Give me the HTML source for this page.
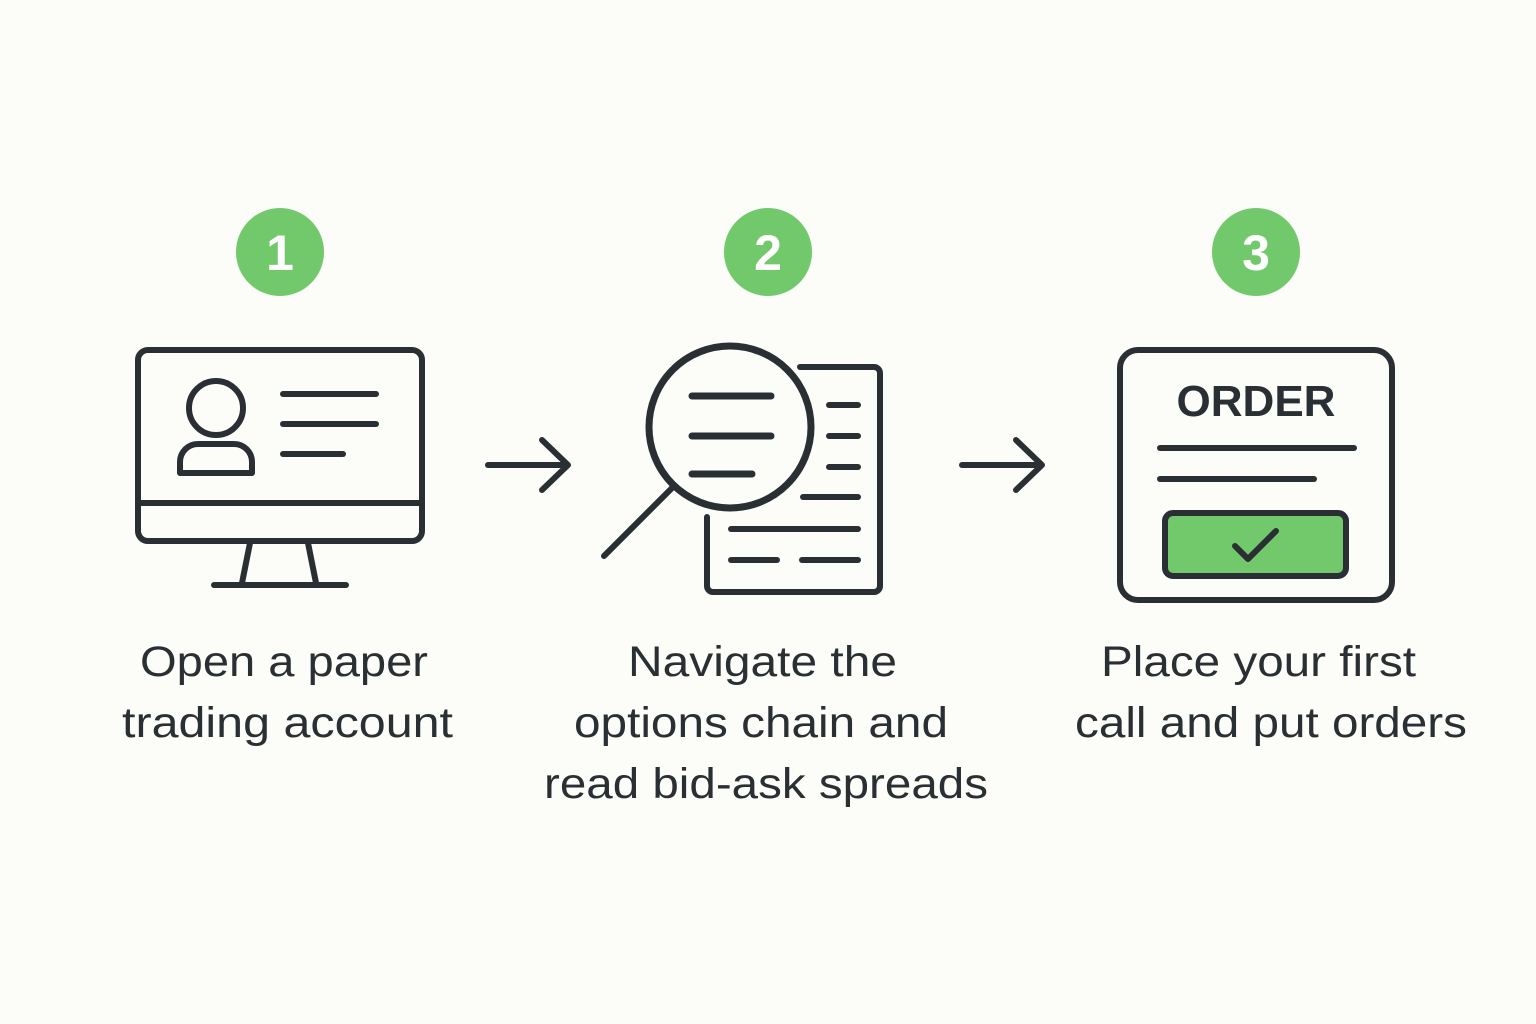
<!DOCTYPE html>
<html><head><meta charset="utf-8"><style>
html,body{margin:0;padding:0;background:#fcfcf8;}
svg{display:block}
text{font-family:"Liberation Sans",sans-serif;}
</style></head><body>
<svg width="1536" height="1024" viewBox="0 0 1536 1024" xmlns="http://www.w3.org/2000/svg">
<rect width="1536" height="1024" fill="#fcfcf8"/>
<g fill="#72c96b">
<circle cx="280" cy="252" r="44"/><circle cx="768" cy="252" r="44"/><circle cx="1256" cy="252" r="44"/>
</g>
<g fill="#fff" font-size="50" font-weight="bold" text-anchor="middle">
<text x="280" y="270">1</text><text x="768" y="270">2</text><text x="1256" y="270">3</text>
</g>
<g fill="none" stroke="#2a2f33" stroke-width="6" stroke-linecap="round" stroke-linejoin="round">
<rect x="138" y="350" width="284" height="191" rx="10"/>
<line x1="138" y1="503" x2="422" y2="503"/>
<line x1="250" y1="543" x2="242" y2="583"/><line x1="308" y1="543" x2="316" y2="583"/>
<line x1="214" y1="585" x2="346" y2="585"/>
<circle cx="216" cy="408" r="27"/>
<path d="M180 473 V462 a18 18 0 0 1 18 -18 h36 a18 18 0 0 1 18 18 V473 Z"/>
<line x1="283" y1="394" x2="376" y2="394"/><line x1="283" y1="424" x2="376" y2="424"/><line x1="283" y1="454" x2="343" y2="454"/>
<line x1="488" y1="465" x2="566" y2="465"/><polyline points="542,440 568,465 542,490"/>
<line x1="962" y1="465" x2="1040" y2="465"/><polyline points="1016,440 1042,465 1016,490"/>
<path d="M800 367 H874 a6 6 0 0 1 6 6 V586 a6 6 0 0 1 -6 6 H713 a6 6 0 0 1 -6 -6 V517"/>
<line x1="829" y1="405" x2="858" y2="405"/><line x1="829" y1="436" x2="858" y2="436"/><line x1="829" y1="467" x2="858" y2="467"/>
<line x1="803" y1="497" x2="858" y2="497"/><line x1="731" y1="529" x2="858" y2="529"/>
<line x1="731" y1="560" x2="777" y2="560"/><line x1="802" y1="560" x2="858" y2="560"/>
<circle cx="730" cy="427" r="81" stroke-width="7" fill="#fcfcf8"/>
<line x1="672" y1="488" x2="604" y2="556"/>
<line x1="692" y1="396" x2="771" y2="396" stroke-width="7"/><line x1="692" y1="436" x2="771" y2="436" stroke-width="7"/><line x1="692" y1="474" x2="752" y2="474" stroke-width="7"/>
<rect x="1120" y="350" width="272" height="250" rx="18"/>
<line x1="1160" y1="448" x2="1354" y2="448"/><line x1="1160" y1="479" x2="1314" y2="479"/>
<rect x="1165" y="513" width="181" height="63" rx="8" fill="#72c96b"/>
<polyline points="1235,546 1248,559 1276,531"/>
</g>
<text x="1256" y="416" font-size="44" font-weight="bold" text-anchor="middle" fill="#2a2f33">ORDER</text>
<g font-size="43" fill="#2a2f33" lengthAdjust="spacingAndGlyphs">
<text x="140" y="676" textLength="288" lengthAdjust="spacingAndGlyphs">Open a paper</text>
<text x="122" y="737" textLength="331" lengthAdjust="spacingAndGlyphs">trading account</text>
<text x="628" y="676" textLength="269" lengthAdjust="spacingAndGlyphs">Navigate the</text>
<text x="574" y="737" textLength="374" lengthAdjust="spacingAndGlyphs">options chain and</text>
<text x="544" y="798" textLength="444" lengthAdjust="spacingAndGlyphs">read bid-ask spreads</text>
<text x="1101" y="676" textLength="315" lengthAdjust="spacingAndGlyphs">Place your first</text>
<text x="1075" y="737" textLength="392" lengthAdjust="spacingAndGlyphs">call and put orders</text>
</g>
</svg>
</body></html>
